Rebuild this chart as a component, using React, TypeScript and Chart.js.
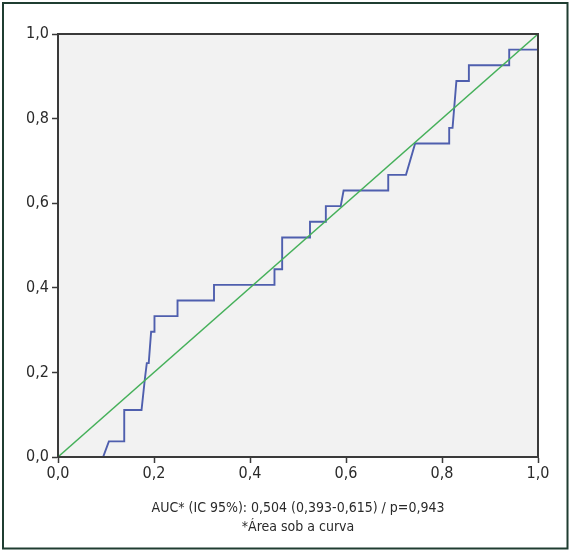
import { useEffect, useRef } from 'react';
import { Chart, registerables, ChartConfiguration } from 'chart.js';

Chart.register(...registerables);

// ROC curve (1 - specificity, sensitivity)
const rocFpr = [
  0, 0.094, 0.106, 0.138, 0.138, 0.174, 0.181, 0.185, 0.189, 0.194, 0.201, 0.201,
  0.249, 0.249, 0.325, 0.325, 0.451, 0.451, 0.467, 0.467, 0.525, 0.525, 0.558,
  0.558, 0.589, 0.595, 0.688, 0.688, 0.725, 0.744, 0.815, 0.815, 0.822, 0.83,
  0.856, 0.856, 0.94, 0.94, 1.0, 1.0,
];
const rocTpr = [
  0, 0, 0.037, 0.037, 0.111, 0.111, 0.185, 0.222, 0.222, 0.296, 0.296, 0.333,
  0.333, 0.37, 0.37, 0.407, 0.407, 0.444, 0.444, 0.519, 0.519, 0.556, 0.556,
  0.593, 0.593, 0.63, 0.63, 0.667, 0.667, 0.741, 0.741, 0.778, 0.778, 0.889,
  0.889, 0.926, 0.926, 0.963, 0.963, 1.0,
];
const referenceLine = [0, 1];
const axisTicks = [0, 0.2, 0.4, 0.6, 0.8, 1.0];
const footnote = ['AUC* (IC 95%): 0,504 (0,393-0,615) / p=0,943', '*Área sob a curva'];

const FONT = '"Liberation Sans Narrow", "DejaVu Sans Condensed", "Liberation Sans", sans-serif';

const fmt = (v: number) => v.toFixed(1).replace('.', ',');

const framePlugin = {
  id: 'frame',
  beforeDraw(chart: Chart) {
    const { ctx, chartArea: a } = chart;
    ctx.save();
    ctx.fillStyle = '#ffffff';
    ctx.fillRect(0, 0, chart.width, chart.height);
    ctx.fillStyle = '#f2f2f2';
    ctx.fillRect(a.left, a.top, a.right - a.left, a.bottom - a.top);
    ctx.restore();
  },
  afterDraw(chart: Chart) {
    const { ctx, chartArea: a } = chart;
    ctx.save();
    ctx.strokeStyle = '#3a3a3a';
    ctx.lineWidth = 2;
    ctx.strokeRect(a.left, a.top, a.right - a.left, a.bottom - a.top);
    ctx.strokeStyle = '#1f3d31';
    ctx.lineWidth = 2;
    ctx.strokeRect(3, 3, chart.width - 5.5, chart.height - 5.5);
    ctx.restore();
  },
};

export default function App() {
  const canvasRef = useRef<HTMLCanvasElement>(null);
  const chartRef = useRef<Chart | null>(null);

  useEffect(() => {
    if (!canvasRef.current) return;
    document.body.style.margin = '0';

    if (chartRef.current) {
      chartRef.current.destroy();
    }

    const config: ChartConfiguration = {
      type: 'scatter',
      data: {
        datasets: [
          {
            data: rocFpr.map((x, i) => ({ x, y: rocTpr[i] })),
            showLine: true,
            borderColor: '#4f5fae',
            borderWidth: 1.9,
            pointRadius: 0,
            tension: 0,
            order: 2,
          },
          {
            data: referenceLine.map((v) => ({ x: v, y: v })),
            showLine: true,
            borderColor: '#45b05a',
            borderWidth: 1.4,
            pointRadius: 0,
            order: 1,
          },
        ],
      },
      options: {
        animation: false,
        responsive: true,
        maintainAspectRatio: false,
        layout: { padding: { left: 0, right: 32, top: 34, bottom: 0 } },
        plugins: {
          legend: { display: false },
          tooltip: { enabled: false },
        },
        scales: {
          x: {
            type: 'linear',
            min: 0,
            max: 1,
            afterFit: (scale: any) => {
              scale.height = 94;
            },
            afterBuildTicks: (scale: any) => {
              scale.ticks = axisTicks.map((value) => ({ value }));
            },
            ticks: {
              callback: (v: any) => fmt(Number(v)),
              color: '#2a2a2a',
              font: { family: FONT, size: 16 },
              padding: 1,
              maxRotation: 0,
            },
            grid: {
              drawOnChartArea: false,
              drawTicks: true,
              tickLength: 6,
              tickColor: '#3a3a3a',
              tickWidth: 1.5,
            },
            border: { display: true, color: '#3a3a3a', width: 2 },
            title: {
              display: true,
              text: footnote,
              color: '#2a2a2a',
              font: { family: FONT, size: 14, lineHeight: 1.3 },
              padding: { top: 0, bottom: 15 },
            },
          },
          y: {
            type: 'linear',
            min: 0,
            max: 1,
            afterFit: (scale: any) => {
              scale.width = 58;
            },
            afterBuildTicks: (scale: any) => {
              scale.ticks = axisTicks.map((value) => ({ value }));
            },
            ticks: {
              callback: (v: any) => fmt(Number(v)),
              color: '#2a2a2a',
              font: { family: FONT, size: 16 },
              padding: 3,
            },
            grid: {
              drawOnChartArea: false,
              drawTicks: true,
              tickLength: 6,
              tickColor: '#3a3a3a',
              tickWidth: 1.5,
            },
            border: { display: true, color: '#3a3a3a', width: 2 },
          },
        },
      },
      plugins: [framePlugin],
    };

    chartRef.current = new Chart(canvasRef.current, config);

    return () => {
      if (chartRef.current) {
        chartRef.current.destroy();
        chartRef.current = null;
      }
    };
  }, []);

  return (
    <div style={{ position: 'relative', width: 570, height: 551 }}>
      <canvas ref={canvasRef} />
    </div>
  );
}
